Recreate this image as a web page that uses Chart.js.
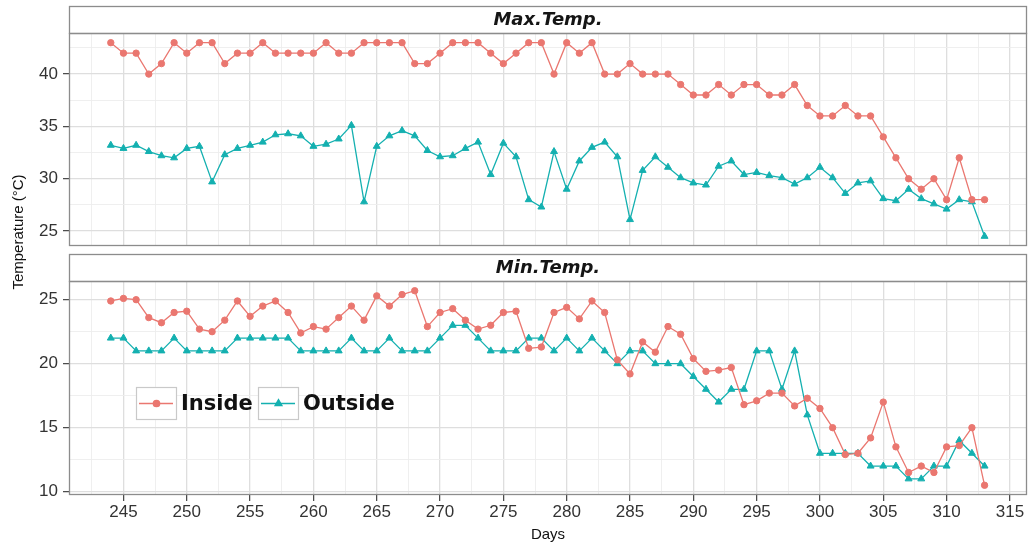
<!DOCTYPE html>
<html>
<head>
<meta charset="utf-8">
<script src="https://cdn.jsdelivr.net/npm/chart.js@4.4.1/dist/chart.umd.min.js"></script>
<style>
  html, body { margin: 0; padding: 0; background: #ffffff; }
  #wrap { position: relative; width: 1028px; height: 547px; overflow: hidden; }
  #wrap canvas { position: absolute; left: 0; top: 0; }
</style>
</head>
<body>
<div id="wrap">
  <canvas id="maxChart" width="1028" height="547"></canvas>
  <canvas id="minChart" width="1028" height="547"></canvas>
</div>
<script>
// ---- data ----
const days = [244,245,246,247,248,249,250,251,252,253,254,255,256,257,258,259,260,261,262,263,
              264,265,266,267,268,269,270,271,272,273,274,275,276,277,278,279,280,281,282,283,
              284,285,286,287,288,289,290,291,292,293,294,295,296,297,298,299,300,301,302,303,
              304,305,306,307,308,309,310,311,312,313];

const maxInside = [43,42,42,40,41,43,42,43,43,41, 42,42,43,42,42,42,42,43,42,42,
                   43,43,43,43,41,41,42,43,43,43, 42,41,42,43,43,40,43,42,43,40,
                   40,41,40,40,40,39,38,38,39,38, 39,39,38,38,39,37,36,36,37,36,
                   36,34,32,30,29,30,28,32,28,28];

const maxOutside = [33.2,32.9,33.2,32.6,32.2,32.0,32.9,33.1,29.7,32.3, 32.9,33.2,33.5,34.2,34.3,34.1,33.1,33.3,33.8,35.1,
                    27.8,33.1,34.1,34.6,34.1,32.7,32.1,32.2,32.9,33.5, 30.4,33.4,32.1,28.0,27.3,32.6,29.0,31.7,33.0,33.5,
                    32.1,26.1,30.8,32.1,31.1,30.1,29.6,29.4,31.2,31.7, 30.4,30.6,30.3,30.1,29.5,30.1,31.1,30.1,28.6,29.6,
                    29.8,28.1,27.9,29.0,28.1,27.6,27.1,28.0,27.8,24.5];

const minInside = [24.9,25.1,25.0,23.6,23.2,24.0,24.1,22.7,22.5,23.4, 24.9,23.7,24.5,24.9,24.0,22.4,22.9,22.7,23.6,24.5,
                   23.4,25.3,24.5,25.4,25.7,22.9,24.0,24.3,23.4,22.7, 23.0,24.0,24.1,21.2,21.3,24.0,24.4,23.5,24.9,24.0,
                   20.3,19.2,21.7,20.9,22.9,22.3,20.4,19.4,19.5,19.7, 16.8,17.1,17.7,17.7,16.7,17.3,16.5,15.0,12.9,13.0,
                   14.2,17.0,13.5,11.5,12.0,11.5,13.5,13.6,15.0,10.5];

const minOutside = [22,22,21,21,21,22,21,21,21,21, 22,22,22,22,22,21,21,21,21,22,
                    21,21,22,21,21,21,22,23,23,22, 21,21,21,22,22,21,22,21,22,21,
                    20,21,21,20,20,20,19,18,17,18, 18,21,21,18,21,16,13,13,13,13,
                    12,12,12,11,11,12,12,14,13,12];

const seriesNames = ['Inside', 'Outside'];
const panelTitles = ['Max.Temp.', 'Min.Temp.'];
const dayTicks = [245,250,255,260,265,270,275,280,285,290,295,300,305,310,315];
const maxTempTicks = [25,30,35,40];
const minTempTicks = [10,15,20,25];
const yTitle = 'Temperature (°C)';
const xTitle = 'Days';

// ---- styling ----
const COLORS = ['#EA7770', '#14B0B0'];
const POINTS = [{ style: 'circle', r: 3.2 }, { style: 'triangle', r: 4 }];
const GRID_MAJOR = '#dedede';
const GRID_MINOR = '#ededed';
const PANEL_LINE = '#8c8c8c';
const TEXT = '#333333';
const PANEL_LEFT = 69;

// major breaks plus the half-way minor breaks that fall inside [lo, hi]
function breaks(majors, lo, hi) {
  const step = majors[1] - majors[0];
  const out = [];
  for (let v = majors[0] - step; v <= majors[majors.length - 1] + step + 1e-9; v += step / 2) {
    if (v >= lo && v <= hi) out.push(Math.round(v * 100) / 100);
  }
  return out;
}

// 5% expansion of the data range
function expand(arrs) {
  const all = [].concat(...arrs);
  const lo = Math.min(...all), hi = Math.max(...all);
  const pad = (hi - lo) * 0.05;
  return [lo - pad, hi + pad];
}

function gridOpts(majors, withTicks) {
  return {
    color: c => majors.includes(c.tick.value) ? GRID_MAJOR : GRID_MINOR,
    lineWidth: c => majors.includes(c.tick.value) ? 1.3 : 0.9,
    drawTicks: withTicks,
    tickLength: 6,
    tickColor: c => majors.includes(c.tick.value) ? '#444444' : 'rgba(0,0,0,0)',
    tickWidth: 1.2
  };
}

function xScale(showAxis) {
  const lo = 240.7, hi = 316.35;
  return {
    type: 'linear', min: lo, max: hi,
    afterBuildTicks: s => { s.ticks = breaks(dayTicks, lo, hi).map(v => ({ value: v })); },
    afterFit: s => { s.height = showAxis ? 52 : 0; s.paddingLeft = 0; s.paddingRight = 0; },
    grid: gridOpts(dayTicks, showAxis),
    border: { display: false },
    ticks: {
      display: showAxis, autoSkip: false, maxRotation: 0, padding: 1, color: TEXT,
      font: { family: 'Liberation Sans', size: 17 },
      callback: v => dayTicks.includes(v) ? String(v) : ''
    },
    title: {
      display: showAxis, text: xTitle, color: '#111111',
      font: { family: 'Liberation Sans', size: 15 },
      padding: { top: 0, bottom: 3 }
    }
  };
}

function yScale(majors, range) {
  const [lo, hi] = range;
  return {
    type: 'linear', position: 'left', min: lo, max: hi,
    afterBuildTicks: s => { s.ticks = breaks(majors, lo, hi).map(v => ({ value: v })); },
    afterFit: s => { s.width = PANEL_LEFT; },
    grid: gridOpts(majors, true),
    border: { display: false },
    ticks: {
      autoSkip: false, padding: 5, color: TEXT,
      font: { family: 'Liberation Sans', size: 17 },
      callback: v => majors.includes(v) ? String(v) : ''
    }
  };
}

function makeDatasets(inside, outside) {
  return [inside, outside].map((vals, i) => ({
    label: seriesNames[i],
    data: days.map((d, k) => ({ x: d, y: vals[k] })),
    borderColor: COLORS[i],
    backgroundColor: COLORS[i],
    borderWidth: 1.3,
    pointStyle: POINTS[i].style,
    pointRadius: POINTS[i].r,
    pointBorderWidth: 1,
    pointBackgroundColor: COLORS[i],
    pointBorderColor: COLORS[i],
    tension: 0,
    clip: false
  }));
}

// facet strip above the panel and the panel frame drawn over the data
const facetPlugin = {
  id: 'facet',
  afterDatasetsDraw(chart, args, o) {
    const { ctx } = chart;
    const { left, right, top, bottom } = chart.chartArea;
    ctx.save();
    ctx.strokeStyle = PANEL_LINE;
    ctx.lineWidth = 1.3;
    ctx.fillStyle = '#ffffff';
    ctx.fillRect(left, o.stripTop, right - left, top - o.stripTop);
    ctx.strokeRect(left + 0.5, o.stripTop + 0.5, right - left - 1, top - o.stripTop);
    ctx.strokeRect(left + 0.5, top + 0.5, right - left - 1, bottom - top - 1);
    ctx.fillStyle = '#151515';
    ctx.font = 'italic bold 18px "DejaVu Sans"';
    ctx.textAlign = 'center';
    ctx.textBaseline = 'middle';
    ctx.fillText(o.title, (left + right) / 2, (o.stripTop + top) / 2 + 1);
    ctx.restore();
  }
};

// key boxes inside the lower panel and the shared y-axis title
const keyPlugin = {
  id: 'keyBox',
  afterDraw(chart, args, o) {
    if (!o.show) return;
    const { ctx } = chart;
    ctx.save();
    chart.data.datasets.forEach((ds, i) => {
      const bx = o.boxX[i], by = o.boxY, bw = o.boxW, bh = o.boxH;
      ctx.fillStyle = '#ffffff';
      ctx.fillRect(bx, by, bw, bh);
      ctx.strokeStyle = '#c9c9c9';
      ctx.lineWidth = 1.2;
      ctx.strokeRect(bx + 0.5, by + 0.5, bw, bh);
      const cy = by + bh / 2 + 0.5;
      ctx.strokeStyle = ds.borderColor;
      ctx.lineWidth = 1.3;
      ctx.beginPath();
      ctx.moveTo(bx + 3, cy);
      ctx.lineTo(bx + bw - 3, cy);
      ctx.stroke();
      ctx.fillStyle = ds.pointBackgroundColor;
      Chart.helpers.drawPoint(ctx, { pointStyle: ds.pointStyle, radius: ds.pointRadius, rotation: 0, borderWidth: 1 },
        bx + bw / 2 + 0.5, cy);
      ctx.fillStyle = '#111111';
      ctx.font = 'bold 21px "DejaVu Sans"';
      ctx.textAlign = 'left';
      ctx.textBaseline = 'middle';
      ctx.fillText(ds.label, bx + bw + 5, cy + 1);
    });
    // y-axis title spanning both panels
    ctx.translate(18.5, 232);
    ctx.rotate(-Math.PI / 2);
    ctx.fillStyle = '#111111';
    ctx.font = '15px "Liberation Sans"';
    ctx.textAlign = 'center';
    ctx.textBaseline = 'middle';
    ctx.fillText(yTitle, 0, 0);
    ctx.restore();
  }
};

const common = {
  responsive: false,
  animation: false,
  events: [],
  plugins: { legend: { display: false }, tooltip: { enabled: false } }
};

new Chart(document.getElementById('maxChart'), {
  type: 'line',
  data: { datasets: makeDatasets(maxInside, maxOutside) },
  plugins: [facetPlugin],
  options: {
    ...common,
    layout: { autoPadding: false, padding: { top: 33, bottom: 547 - 246, left: 0, right: 1 } },
    scales: { x: xScale(false), y: yScale(maxTempTicks, expand([maxInside, maxOutside])) },
    plugins: { ...common.plugins, facet: { title: panelTitles[0], stripTop: 6 } }
  }
});

new Chart(document.getElementById('minChart'), {
  type: 'line',
  data: { datasets: makeDatasets(minInside, minOutside) },
  plugins: [facetPlugin, keyPlugin],
  options: {
    ...common,
    layout: { autoPadding: false, padding: { top: 281, bottom: 0, left: 0, right: 1 } },
    scales: { x: xScale(true), y: yScale(minTempTicks, expand([minInside, minOutside])) },
    plugins: {
      ...common.plugins,
      facet: { title: panelTitles[1], stripTop: 254 },
      keyBox: { show: true, boxX: [136, 258], boxY: 387, boxW: 40, boxH: 32 }
    }
  }
});
</script>
</body>
</html>
